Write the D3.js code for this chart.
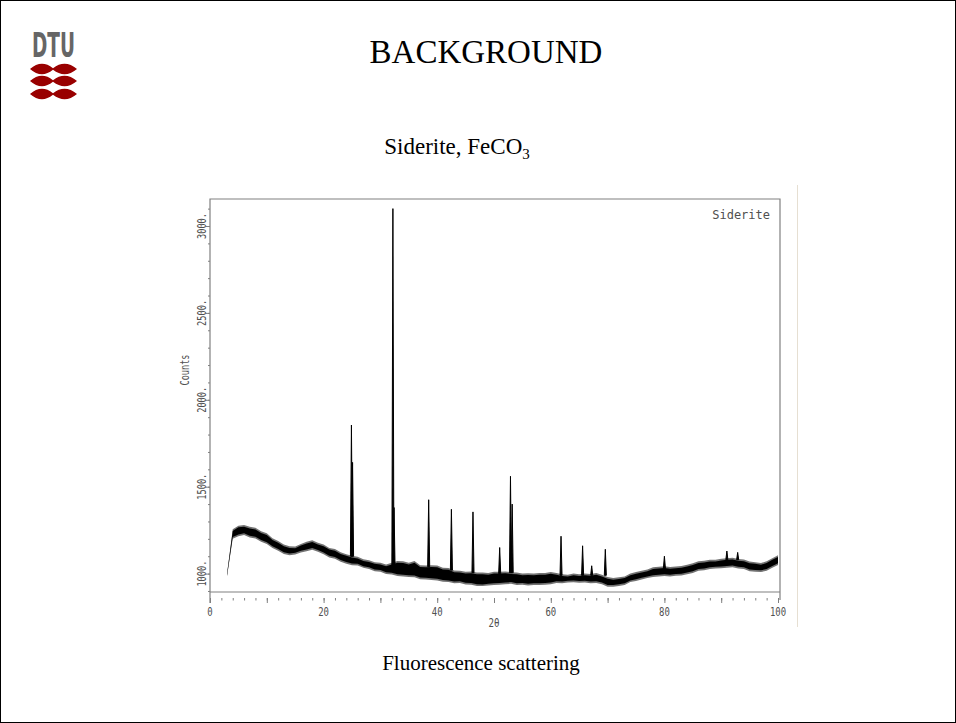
<!DOCTYPE html>
<html>
<head>
<meta charset="utf-8">
<script src="https://cdn.jsdelivr.net/npm/d3@7"></script>
<style>
  body { margin: 0; background: #fff; }
</style>
</head>
<body>
<div id="slide"></div>
<script>
// ===========================================================
// DATA
// ===========================================================
var slideTitle = "BACKGROUND";
var caption = "Fluorescence scattering";
var plotLabel = "Siderite";

// background, 2theta every 1 degree
var theta = [3, 4, 5, 6, 7, 8, 9, 10, 11, 12, 13, 14, 15, 16, 17, 18, 19, 20, 21, 22,
    23, 24, 25, 26, 27, 28, 29, 30, 31, 32, 33, 34, 35, 36, 37, 38, 39, 40, 41, 42,
    43, 44, 45, 46, 47, 48, 49, 50, 51, 52, 53, 54, 55, 56, 57, 58, 59, 60, 61, 62,
    63, 64, 65, 66, 67, 68, 69, 70, 71, 72, 73, 74, 75, 76, 77, 78, 79, 80, 81, 82,
    83, 84, 85, 86, 87, 88, 89, 90, 91, 92, 93, 94, 95, 96, 97, 98, 99, 100];

// outer envelope of the noise spikes
var spikeLow = [985, 1200, 1215, 1222, 1208, 1202, 1183, 1170, 1148, 1132, 1113, 1105, 1110, 1122, 1128, 1137, 1126, 1112, 1093, 1086,
    1068, 1057, 1048, 1046, 1033, 1027, 1013, 1011, 998, 995, 986, 984, 981, 979, 968, 966, 963, 961, 953, 951,
    944, 946, 938, 936, 929, 928, 931, 934, 936, 939, 941, 934, 936, 932, 934, 935, 936, 939, 946, 944,
    949, 950, 947, 949, 944, 946, 939, 925, 924, 929, 934, 951, 957, 966, 974, 981, 984, 986, 984, 987,
    989, 996, 1004, 1016, 1019, 1026, 1029, 1031, 1034, 1036, 1029, 1026, 1014, 1011, 1009, 1016, 1034, 1050];
var spikeHigh = [1000, 1255, 1276, 1280, 1270, 1264, 1243, 1232, 1203, 1187, 1168, 1157, 1156, 1171, 1183, 1192, 1178, 1167, 1148, 1141,
    1123, 1112, 1103, 1097, 1083, 1077, 1066, 1062, 1053, 1062, 1073, 1071, 1063, 1072, 1048, 1047, 1048, 1046, 1033, 1032,
    1018, 1016, 1010, 1012, 1006, 1006, 1003, 1011, 1010, 1012, 1008, 1006, 1000, 1002, 1001, 1004, 1003, 1009, 1004, 996,
    994, 1001, 996, 1001, 998, 1003, 994, 981, 974, 979, 984, 1001, 1009, 1016, 1024, 1036, 1039, 1042, 1038, 1041,
    1044, 1051, 1059, 1071, 1074, 1079, 1079, 1086, 1089, 1091, 1084, 1081, 1069, 1066, 1061, 1071, 1089, 1106];

// dense core of the noise band
var coreLow = [988, 1210, 1225, 1232, 1218, 1212, 1193, 1180, 1158, 1142, 1123, 1115, 1120, 1132, 1138, 1147, 1136, 1122, 1103, 1096,
    1078, 1067, 1058, 1056, 1043, 1037, 1023, 1021, 1008, 1005, 996, 994, 991, 989, 978, 976, 973, 971, 963, 961,
    954, 956, 948, 946, 939, 938, 941, 944, 946, 949, 951, 944, 946, 942, 944, 945, 946, 949, 956, 954,
    959, 960, 957, 959, 954, 956, 949, 935, 934, 939, 944, 961, 967, 976, 984, 991, 994, 996, 994, 997,
    999, 1006, 1014, 1026, 1029, 1036, 1039, 1041, 1044, 1046, 1039, 1036, 1024, 1021, 1019, 1026, 1044, 1060];
var coreHigh = [997, 1245, 1266, 1270, 1260, 1254, 1233, 1222, 1193, 1177, 1158, 1147, 1146, 1161, 1173, 1182, 1168, 1157, 1138, 1131,
    1113, 1102, 1093, 1087, 1073, 1067, 1056, 1052, 1043, 1052, 1063, 1061, 1053, 1062, 1038, 1037, 1038, 1036, 1023, 1022,
    1008, 1006, 1000, 1002, 996, 996, 993, 1001, 1000, 1002, 998, 996, 990, 992, 991, 994, 993, 999, 994, 986,
    984, 991, 986, 991, 988, 993, 984, 971, 964, 969, 974, 991, 999, 1006, 1014, 1026, 1029, 1032, 1028, 1031,
    1034, 1041, 1049, 1061, 1064, 1069, 1069, 1076, 1079, 1081, 1074, 1071, 1059, 1056, 1051, 1061, 1079, 1096];

// Bragg peaks: position, top count, count at the foot
var peakTheta = [24.9, 25.1, 32.2, 32.4, 38.5, 42.5, 46.3, 51.0, 52.9, 53.2, 61.8, 65.6, 67.2, 69.6, 80.0, 91.0, 92.9];
var peakTop   = [1855, 1640, 3100, 1380, 1425, 1370, 1355, 1150, 1560, 1400, 1215, 1160, 1045, 1140, 1100, 1130, 1122];
var peakFoot  = [1100, 1100, 1040, 1040, 1040, 1020, 1005, 1000, 1005, 1005, 990, 990, 990, 990, 1030, 1080, 1080];

// axes
var xTickLabels = [0, 20, 40, 60, 80, 100];
var xMajorTicks = [0, 10, 20, 30, 40, 50, 60, 70, 80, 90, 100];
var xMinorTicks = d3.range(0, 101, 2);
var yTickLabels = [1000, 1500, 2000, 2500, 3000];
var yMinorTicks = d3.range(900, 3101, 100);

// ===========================================================
// SVG
// ===========================================================
var svgWidth = 956;
var svgHeight = 723;

var plot = { left: 210, right: 780, top: 199, bottom: 592 };

var svg = d3.select('#slide')
    .append('svg')
    .attr('width', svgWidth)
    .attr('height', svgHeight);

// slide border
svg.append('rect')
    .attr('x', 0.5).attr('y', 0.5)
    .attr('width', svgWidth - 1).attr('height', svgHeight - 1)
    .attr('fill', 'none').attr('stroke', '#000').attr('stroke-width', 1);

// ===========================================================
// DTU LOGO
// ===========================================================
svg.append('text')
    .attr('x', 32).attr('y', 57)
    .attr('textLength', 43).attr('lengthAdjust', 'spacingAndGlyphs')
    .style('font-family', '"Liberation Sans Narrow", "DejaVu Sans Condensed", "Liberation Sans", sans-serif')
    .style('font-weight', 'bold')
    .style('font-size', '34px')
    .attr('fill', '#666')
    .text('DTU');

[69, 81, 94].forEach(function(cy) {
    svg.append('path')
        .attr('d', `M30,${cy} Q41.5,${cy - 10} 53,${cy - 0.8} Q65,${cy - 10} 77,${cy} Q65,${cy + 10} 53,${cy + 0.8} Q41.5,${cy + 10} 30,${cy} Z`)
        .attr('fill', '#990000');
});

// ===========================================================
// TITLES
// ===========================================================
svg.append('text')
    .attr('x', 486).attr('y', 63)
    .attr('text-anchor', 'middle')
    .style('font-family', '"Liberation Serif", "Times New Roman", serif')
    .style('font-size', '33px')
    .text(slideTitle);

var sub = svg.append('text')
    .attr('x', 457).attr('y', 154)
    .attr('text-anchor', 'middle')
    .style('font-family', '"Liberation Serif", "Times New Roman", serif')
    .style('font-size', '23px');
sub.append('tspan').text('Siderite, FeCO');
sub.append('tspan').attr('dy', 5).style('font-size', '15px').text('3');

svg.append('text')
    .attr('x', 481).attr('y', 670)
    .attr('text-anchor', 'middle')
    .style('font-family', '"Liberation Serif", "Times New Roman", serif')
    .style('font-size', '21px')
    .text(caption);

// edge of the pasted picture
svg.append('line')
    .attr('x1', 797.5).attr('x2', 797.5).attr('y1', 185).attr('y2', 627)
    .attr('stroke', '#e6dfd2').attr('stroke-width', 1);

// ===========================================================
// SCALES
// ===========================================================
var x = d3.scaleLinear().domain([0, 100]).range([plot.left, 778]);
var y = d3.scaleLinear().domain([1000, 3000]).range([573.6, 226]);

var plotFont = '"DejaVu Sans Mono", monospace';
var axisColor = '#808080';
var labelColor = '#505050';

// frame
svg.append('path')
    .attr('d', `M${plot.left},${plot.bottom + 11} V${plot.top} H${plot.right} V${plot.bottom + 8}`)
    .attr('fill', 'none').attr('stroke', axisColor).attr('stroke-width', 1.2);
svg.append('line')
    .attr('x1', plot.left).attr('x2', plot.right)
    .attr('y1', plot.bottom).attr('y2', plot.bottom)
    .attr('stroke', axisColor).attr('stroke-width', 1.2);

// ===========================================================
// AXES
// ===========================================================
var xMinorAxis = svg.append('g')
    .attr('transform', `translate(0, ${plot.bottom + 6})`)
    .call(d3.axisBottom(x).tickValues(xMinorTicks).tickSize(2.5).tickFormat(''));
var xMajorAxis = svg.append('g')
    .attr('transform', `translate(0, ${plot.bottom + 6})`)
    .call(d3.axisBottom(x).tickValues(xMajorTicks).tickSize(5).tickFormat(''));
[xMinorAxis, xMajorAxis].forEach(function(g) {
    g.select('.domain').remove();
    g.selectAll('line').attr('stroke', axisColor);
});

svg.append('g').selectAll('text')
    .data(xTickLabels)
    .enter()
    .append('text')
    .attr('x', d => x(d))
    .attr('y', 616)
    .attr('text-anchor', 'middle')
    .attr('textLength', d => String(d).length * 5.4)
    .attr('lengthAdjust', 'spacingAndGlyphs')
    .style('font-family', plotFont)
    .style('font-size', '12px')
    .attr('fill', labelColor)
    .text(d => d);

svg.append('text')
    .attr('x', 494).attr('y', 627)
    .attr('text-anchor', 'middle')
    .attr('textLength', 11).attr('lengthAdjust', 'spacingAndGlyphs')
    .style('font-family', plotFont)
    .style('font-size', '12px')
    .attr('fill', labelColor)
    .text('2θ');

var yMinorAxis = svg.append('g')
    .attr('transform', `translate(${plot.left}, 0)`)
    .call(d3.axisLeft(y).tickValues(yMinorTicks).tickSize(2).tickFormat(''));
var yMajorAxis = svg.append('g')
    .attr('transform', `translate(${plot.left}, 0)`)
    .call(d3.axisLeft(y).tickValues(yTickLabels).tickSize(4).tickFormat(''));
[yMinorAxis, yMajorAxis].forEach(function(g) {
    g.select('.domain').remove();
    g.selectAll('line').attr('stroke', axisColor);
});

svg.append('g').selectAll('text')
    .data(yTickLabels)
    .enter()
    .append('text')
    .attr('transform', d => `translate(201, ${y(d)}) rotate(-90)`)
    .attr('text-anchor', 'middle')
    .attr('dominant-baseline', 'central')
    .attr('textLength', 26)
    .attr('lengthAdjust', 'spacingAndGlyphs')
    .style('font-family', plotFont)
    .style('font-size', '13px')
    .attr('fill', labelColor)
    .text(d => d + '.');

svg.append('text')
    .attr('transform', 'translate(184, 370) rotate(-90)')
    .attr('text-anchor', 'middle')
    .attr('dominant-baseline', 'central')
    .attr('textLength', 31)
    .attr('lengthAdjust', 'spacingAndGlyphs')
    .style('font-family', plotFont)
    .style('font-size', '13px')
    .attr('fill', labelColor)
    .text('Counts');

svg.append('text')
    .attr('x', 770).attr('y', 219)
    .attr('text-anchor', 'end')
    .style('font-family', plotFont)
    .style('font-size', '12px')
    .attr('fill', labelColor)
    .text(plotLabel);

// ===========================================================
// PATTERN
// ===========================================================
var band = theta.map(function(t, i) {
    return { t: t, sLo: spikeLow[i], sHi: spikeHigh[i], cLo: coreLow[i], cHi: coreHigh[i] };
});

// fuzzy noise spikes
svg.append('path')
    .datum(band)
    .attr('fill', '#000')
    .attr('fill-opacity', 0.55)
    .attr('d', d3.area()
        .x(d => x(d.t))
        .y0(d => y(d.sLo))
        .y1(d => y(d.sHi)));

// solid core
svg.append('path')
    .datum(band)
    .attr('fill', '#000')
    .attr('d', d3.area()
        .x(d => x(d.t))
        .y0(d => y(d.cLo))
        .y1(d => y(d.cHi)));

var peaks = peakTheta.map(function(t, i) {
    return { t: t, top: peakTop[i], foot: peakFoot[i] };
});

svg.append('g')
    .selectAll('path')
    .data(peaks)
    .enter()
    .append('path')
    .attr('fill', '#000')
    .attr('stroke', '#000')
    .attr('stroke-width', 1)
    .attr('stroke-linejoin', 'miter')
    .attr('d', d => `M${x(d.t - 0.18)},${y(d.foot)} L${x(d.t)},${y(d.top)} L${x(d.t + 0.18)},${y(d.foot)} Z`);
</script>
</body>
</html>
